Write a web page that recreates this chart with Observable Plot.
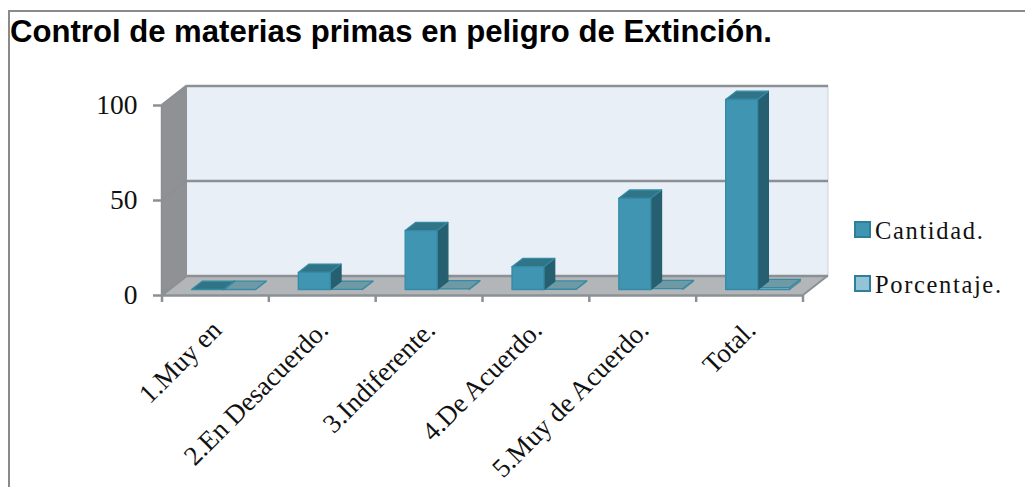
<!DOCTYPE html>
<html><head><meta charset="utf-8">
<script src="https://cdn.jsdelivr.net/npm/d3@7"></script>
<script src="https://cdn.jsdelivr.net/npm/@observablehq/plot@0.6"></script>
<style>
html,body{margin:0;padding:0;background:#fff;overflow:hidden}
#page{position:relative;width:1025px;height:487px}
#frame{position:absolute;left:8px;top:10px;right:0;height:500px;border-left:2px solid #8a8a8a;border-top:2px solid #8a8a8a}
#title{position:absolute;left:10px;top:14px;height:36px;padding-right:8px;background:#fff;font:bold 31.1px "Liberation Sans",Arial,sans-serif;color:#000;line-height:36px;white-space:nowrap}
#chart{position:absolute;left:0;top:60px}
#legend{position:absolute;left:854px;top:204px;font:24.5px "Liberation Serif",serif;letter-spacing:1.65px;color:#111}
#legend div{display:flex;align-items:center;height:54px}
#legend i{display:block;width:13px;height:13px;border:2px solid #2f7f99;margin-right:4px;margin-top:-4px}
</style></head><body>
<div id="page"><div id="frame"></div>
<div id="title">Control de materias primas en peligro de Extinción.</div>
<div id="chart"></div>
<div id="legend"></div></div>
<script>
const categories = ["1.Muy en","2.En Desacuerdo.","3.Indiferente.","4.De Acuerdo.","5.Muy de Acuerdo.","Total."];
const cantidad = [0,9,31,12,48,100];
const porcentaje = [0,0.09,0.31,0.12,0.48,1];
const yTicks = [0,50,100];
const legendLabels = ["Cantidad.","Porcentaje."];
const colors = {
  cantidad:{front:"#3f95b2",side:"#265f70",top:"#2f7487",stroke:"#358aa6"},
  porcentaje:{front:"#93c3d6",side:"#5f8c99",top:"#6f9aa5",stroke:"#358aa6"}
};
const depthX = 25, depthY = -19.5;          // wall projection
const barDX = 10.7, barDY = -8.3;           // bar projection
const lift = -5.5, barW = 32;
const lineColor = "#8c9094";

const rows = key => categories.map((c,i)=>({c,v:(key==="cantidad"?cantidad:porcentaje)[i]}));

function prism(key, shift){
  const col = colors[key];
  return Plot.barY(rows(key),{x:"c",y:"v",render(index,scales,values){
    const g = d3.create("svg:g");
    for (const i of index){
      const x0 = values.x[i]+shift, x1 = x0+barW;
      const yb = Math.max(values.y1[i],values.y2[i])+lift;
      const yt = Math.min(values.y1[i],values.y2[i])+lift;
      const poly = (pts,fill,stroke) => g.append("polygon")
        .attr("points",pts.map(p=>p.join(",")).join(" "))
        .attr("fill",fill).attr("stroke",stroke).attr("stroke-width",1.3).attr("stroke-linejoin","round");
      poly([[x1,yb],[x1+barDX,yb+barDY],[x1+barDX,yt+barDY],[x1,yt]],col.side,col.side);
      poly([[x0,yt],[x1,yt],[x1+barDX,yt+barDY],[x0+barDX,yt+barDY]],col.top,col.stroke);
      if (yb-yt>1) poly([[x0,yt],[x1,yt],[x1,yb],[x0,yb]],col.front,col.stroke);
    }
    return g.node();
  }});
}

function walls(index,{x,y},channels,dims){
  const g = d3.create("svg:g");
  const L = dims.marginLeft, R = dims.width-dims.marginRight, y0=y(0), yT=y(100);
  const poly=(pts,fill)=>g.append("polygon").attr("points",pts.map(p=>p.join(",")).join(" ")).attr("fill",fill);
  const line=(a,b,c,w)=>g.append("line").attr("x1",a[0]).attr("y1",a[1]).attr("x2",b[0]).attr("y2",b[1]).attr("stroke",c).attr("stroke-width",w);
  poly([[L+depthX,yT+depthY],[R+depthX,yT+depthY],[R+depthX,y0+depthY],[L+depthX,y0+depthY]],"#e8eff7");
  poly([[L,yT],[L+depthX,yT+depthY],[L+depthX,y0+depthY],[L,y0]],"#8f9195");
  poly([[L,y0],[L+depthX,y0+depthY],[R+depthX,y0+depthY],[R,y0]],"#b3b6b8");
  line([R+depthX,yT+depthY],[R+depthX,y0+depthY],"#d0d3d6",1);
  line([L,yT],[L,y0],lineColor,2.5);
  for (const t of yTicks) line([L,y(t)],[L+depthX,y(t)+depthY],lineColor,2.5);
  line([R,y0],[R+depthX,y0+depthY],lineColor,2);
  const edges = categories.map(c=>x(c)).concat(R);
  for (const e of edges) line([e,y0],[e,y0+7],lineColor,2.5);
  return g.node();
}

const plot = Plot.plot({
  width:1025,height:427,
  marginLeft:162,marginRight:222,marginTop:45,marginBottom:192,
  x:{type:"band",domain:categories,padding:0,round:false,label:null},
  y:{domain:[0,100],label:null},
  style:{background:"transparent",overflow:"visible"},
  marks:[
    walls,
    Plot.ruleY(yTicks,{dx:depthX,dy:depthY,stroke:lineColor,strokeWidth:2.5}),
    Plot.ruleY([0],{stroke:lineColor,strokeWidth:2.5}),
    prism("porcentaje",61.5),
    prism("cantidad",29.5),
    Plot.axisY({ticks:yTicks,tickSize:9,tickPadding:16,stroke:lineColor,strokeWidth:2.5,tickFormat:d=>d,label:null,
      fontSize:27.5,fontFamily:"Liberation Serif",fill:"#111"}),
    Plot.axisX({tickSize:0,tickRotate:-45,textAnchor:"end",tickPadding:0,dx:1,dy:30,label:null,
      fontSize:27,fontFamily:"Liberation Serif",fill:"#111"})
  ]
});
plot.style.display="block";
document.getElementById("chart").append(plot);

const lg = d3.select("#legend");
legendLabels.forEach((t,i)=>{
  const d = lg.append("div");
  d.append("i").style("background",i?colors.porcentaje.front:colors.cantidad.front);
  d.append("span").text(t);
});
</script></body></html>
